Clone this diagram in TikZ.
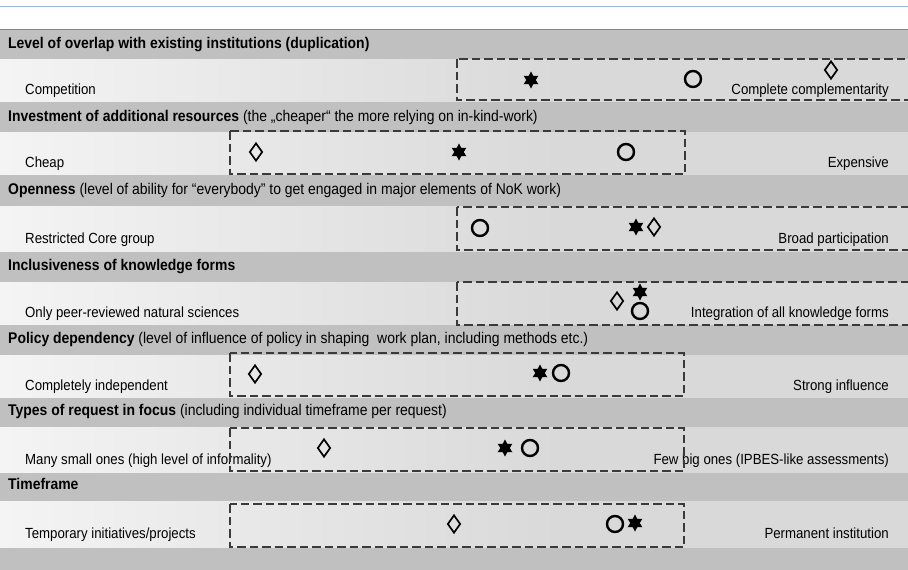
\documentclass[tikz,border=0pt]{standalone}
\usepackage{fontspec}
\setmainfont{Liberation Sans}[FakeStretch=0.9]
\usetikzlibrary{shapes.geometric}
\definecolor{headgray}{HTML}{C0C0C0}
\definecolor{rowlight}{HTML}{F4F4F4}
\definecolor{rowdark}{HTML}{D9D9D9}
\definecolor{rangegray}{HTML}{3A3A3A}
\definecolor{gridblue}{HTML}{5B8BD0}
\tikzset{
    head text/.style={anchor=west, inner sep=0pt, font=\fontsize{15.5}{17}\selectfont},
    pole/.style={anchor=base west, inner sep=0pt, font=\fontsize{14.7}{16}\selectfont},
    pole right/.style={pole, anchor=base east},
    rangebox/.style={draw=rangegray, dash pattern=on 8.5pt off 4pt, line width=2.6pt},
    starmark/.style={star, star points=6, star point ratio=1.8, fill=black,
                     inner sep=0pt, minimum size=17pt},
    ringmark/.style={circle, draw, line width=2.4pt, minimum size=16pt, inner sep=0pt},
    diamark/.style={diamond, draw, line width=1.7pt, inner sep=0pt,
                    minimum width=13pt, minimum height=18pt},
}
% header band top, row top, row bottom
\newcommand{\criterionrow}[3]{
    \fill[headgray] (0,#1) rectangle (908,#2);
    \shade[left color=rowlight, right color=rowdark] (0,#2) rectangle (560,#3);
    \fill[rowdark] (560,#2) rectangle (908,#3);
}

\begin{document}
\begin{tikzpicture}[x=1pt, y=-1pt]
    \useasboundingbox (0,0) rectangle (908,570);
    \fill[white] (0,0) rectangle (908,30);
    \draw[gridblue!60, line width=0.8pt] (0,6) -- (908,6);
    \draw[gridblue, line width=1.4pt] (0,30) -- (908,30);

    \criterionrow{30}{59}{102}
    \criterionrow{102}{132}{175}
    \criterionrow{175}{206}{252}
    \criterionrow{252}{282}{325}
    \criterionrow{325}{355}{398}
    \criterionrow{398}{427}{473}
    \criterionrow{473}{501}{548}
    \fill[headgray] (0,548) rectangle (908,570);

    % overlap
    \node[head text] (overlap) at (8,45) {\textbf{Level of overlap with existing institutions (duplication)}};
    \node[pole] (overlaplo) at (25,94) {Competition};
    \node[pole right] (overlaphi) at (889,94) {Complete complementarity};
    \draw[rangebox] (457,59) rectangle (915,100);
    \node[starmark] (overlapstar) at (531,80) {};
    \node[ringmark] (overlapring) at (693,79) {};
    \node[diamark] (overlapdia) at (831,70) {};

    % resources
    \node[head text] (resources) at (8,117) {\textbf{Investment of additional resources} (the „cheaper“ the more relying on in-kind-work)};
    \node[pole] (resourceslo) at (25,167) {Cheap};
    \node[pole right] (resourceshi) at (889,167) {Expensive};
    \draw[rangebox] (230,131) rectangle (685,174);
    \node[diamark] (resourcesdia) at (256,152) {};
    \node[starmark] (resourcesstar) at (459,152) {};
    \node[ringmark] (resourcesring) at (626,152) {};

    % openness
    \node[head text] (openness) at (8,190) {\textbf{Openness} (level of ability for “everybody” to get engaged in major elements of NoK work)};
    \node[pole] (opennesslo) at (25,243) {Restricted Core group};
    \node[pole right] (opennesshi) at (889,243) {Broad participation};
    \draw[rangebox] (457,207) rectangle (915,250);
    \node[ringmark] (opennessring) at (480,228) {};
    \node[starmark] (opennessstar) at (636,227) {};
    \node[diamark] (opennessdia) at (654,227) {};

    % inclusiveness
    \node[head text] (inclusive) at (8,267) {\textbf{Inclusiveness of knowledge forms}};
    \node[pole] (inclusivelo) at (25,317) {Only peer-reviewed natural sciences};
    \node[pole right] (inclusivehi) at (889,317) {Integration of all knowledge forms};
    \draw[rangebox] (457,282) rectangle (915,325);
    \node[diamark] (inclusivedia) at (617,301) {};
    \node[starmark] (inclusivestar) at (640,292) {};
    \node[ringmark] (inclusivering) at (640,311) {};

    % policy
    \node[head text] (policy) at (8,339) {\textbf{Policy dependency} (level of influence of policy in shaping\ \ work plan, including methods etc.)};
    \node[pole] (policylo) at (25,390) {Completely independent};
    \node[pole right] (policyhi) at (889,390) {Strong influence};
    \draw[rangebox] (230,353) rectangle (684,396);
    \node[diamark] (policydia) at (255,374) {};
    \node[starmark] (policystar) at (540,373) {};
    \node[ringmark] (policyring) at (561,373) {};

    % requests
    \node[head text] (requests) at (8,411) {\textbf{Types of request in focus} (including individual timeframe per request)};
    \node[pole] (requestslo) at (25,464) {Many small ones (high level of informality)};
    \node[pole right] (requestshi) at (889,464) {Few big ones (IPBES-like assessments)};
    \draw[rangebox] (230,428) rectangle (684,471);
    \node[diamark] (requestsdia) at (324,448) {};
    \node[starmark] (requestsstar) at (505,448) {};
    \node[ringmark] (requestsring) at (530,448) {};

    % timeframe
    \node[head text] (timeframe) at (8,484) {\textbf{Timeframe}};
    \node[pole] (timeframelo) at (25,538) {Temporary initiatives/projects};
    \node[pole right] (timeframehi) at (889,538) {Permanent institution};
    \draw[rangebox] (230,504) rectangle (684,547);
    \node[diamark] (timeframedia) at (454,524) {};
    \node[ringmark] (timeframering) at (615,524) {};
    \node[starmark] (timeframestar) at (635,523) {};
\end{tikzpicture}
\end{document}
